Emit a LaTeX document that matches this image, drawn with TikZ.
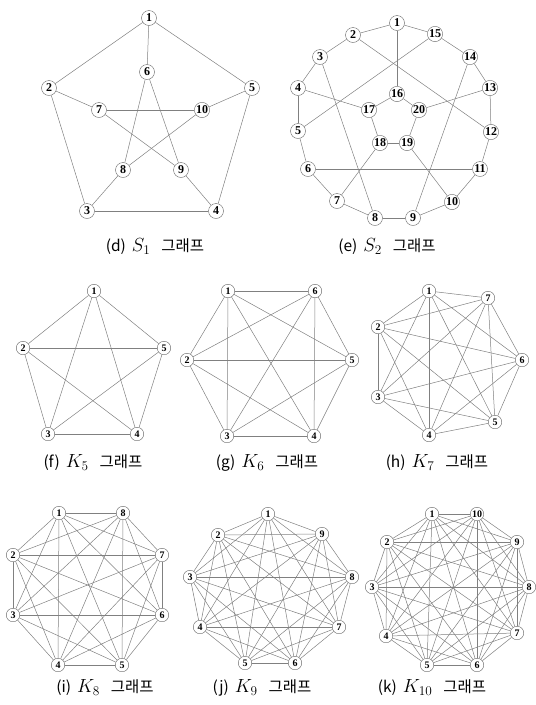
\RequirePackage{fix-cm}
\documentclass[tikz,border=0pt]{standalone}
\usepackage{fontspec}
\setmainfont{Liberation Serif}
\newfontfamily\krfont{Noto Sans CJK KR}
\usetikzlibrary{positioning}

\begin{document}
\begin{tikzpicture}[
  x=1pt, y=-1pt,
  vtx/.style={circle, draw=black!60, fill=white, inner sep=0.3pt,
              minimum size=15pt, font=\fontsize{12}{12}\selectfont\bfseries},
  kvtx/.style={vtx, minimum size=13.5pt, font=\fontsize{10}{10}\selectfont\bfseries},
  lnk/.style={draw=black!50, line width=0.5pt},
  gcap/.style={font=\krfont\fontsize{15.5}{16}\selectfont, inner sep=0pt}
]
  \useasboundingbox (0,0) rectangle (536,705);

  % (d) S_1
  \foreach \n/\x/\y in {1/149/18, 2/49/88, 3/87/211, 4/216/211, 5/252/88,
                        6/147/72, 7/99/110, 8/123/170, 9/181/170, 10/202/110}
    \node[vtx] (s1-\n) at (\x,\y) {\n};
  \foreach \a/\b in {1/2,2/3,3/4,4/5,5/1,1/6,2/7,3/8,4/9,5/10,
                     6/8,8/10,10/7,7/9,9/6}
    \draw[lnk] (s1-\a) -- (s1-\b);
  \node[gcap] (cap-d) at (155,247)
    {(d)\hspace{6pt}{\fontsize{19}{19}\selectfont$S_1$}\hspace{11pt}그래프};

  % (e) S_2
  \foreach \n/\x/\y in {1/397/23, 2/353/35, 3/320/57, 4/298/88, 5/298/131,
                        6/308/169, 7/337/201, 8/375/218, 9/413/218, 10/452/202,
                        11/480/169, 12/491/132, 13/490/88, 14/470/57, 15/435/34,
                        16/397/94, 17/369/110, 18/380/143, 19/407/143, 20/419/110}
    \node[vtx] (s2-\n) at (\x,\y) {\n};
  \foreach \a/\b in {1/2,2/3,3/4,4/5,5/6,6/7,7/8,8/9,9/10,10/11,11/12,12/13,
                     13/14,14/15,15/1,
                     1/16,4/17,7/18,10/19,13/20,
                     16/17,17/18,18/19,19/20,20/16,
                     2/12,3/8,5/15,6/11,9/14}
    \draw[lnk] (s2-\a) -- (s2-\b);
  \node[gcap] (cap-e) at (387,247)
    {(e)\hspace{6pt}{\fontsize{19}{19}\selectfont$S_2$}\hspace{11pt}그래프};

  % complete graphs
  \foreach \n/\x/\y in {1/94/291, 2/23/348, 3/48/434, 4/137/434, 5/164/348}
    \node[kvtx] (k5-\n) at (\x,\y) {\n};
  \foreach \n/\x/\y in {1/228/291, 2/187/360, 3/227/436, 4/314/436, 5/352/360,
                        6/315/291}
    \node[kvtx] (k6-\n) at (\x,\y) {\n};
  \foreach \n/\x/\y in {1/429/291, 2/378/327, 3/378/397, 4/429/435, 5/495/422,
                        6/522/360, 7/488/298}
    \node[kvtx] (k7-\n) at (\x,\y) {\n};
  \foreach \n/\x/\y in {1/59/513, 2/13/555, 3/13/615, 4/58/665, 5/122/665,
                        6/162/615, 7/162/555, 8/123/513}
    \node[kvtx] (k8-\n) at (\x,\y) {\n};
  \foreach \n/\x/\y in {1/268/514, 2/218/535, 3/190/577, 4/200/627, 5/245/663,
                        6/295/663, 7/339/627, 8/352/577, 9/322/534}
    \node[kvtx] (k9-\n) at (\x,\y) {\n};
  \foreach \n/\x/\y in {1/432/514, 2/387/542, 3/372/587, 4/386/636, 5/427/665,
                        6/477/665, 7/517/633, 8/529/587, 9/517/542, 10/477/514}
    \node[kvtx] (k10-\n) at (\x,\y) {\n};

  \foreach \g in {5,...,10}{
    \pgfmathtruncatemacro\last{\g-1}
    \foreach \i in {1,...,\last}{
      \pgfmathtruncatemacro\nxt{\i+1}
      \foreach \j in {\nxt,...,\g}
        \draw[lnk] (k\g-\i) -- (k\g-\j);
    }
  }

  \foreach \nm/\ltr/\k/\x/\y in {f/f/5/93/463, g/g/6/267/463, h/h/7/437/463,
                                 i/i/8/105/688, j/j/9/262/688, k/k/10/432/688}
    \node[gcap] (cap-\nm) at (\x,\y)
      {(\ltr)\hspace{6pt}{\fontsize{19}{19}\selectfont$K_{\k}$}\hspace{11pt}그래프};
\end{tikzpicture}
\end{document}
